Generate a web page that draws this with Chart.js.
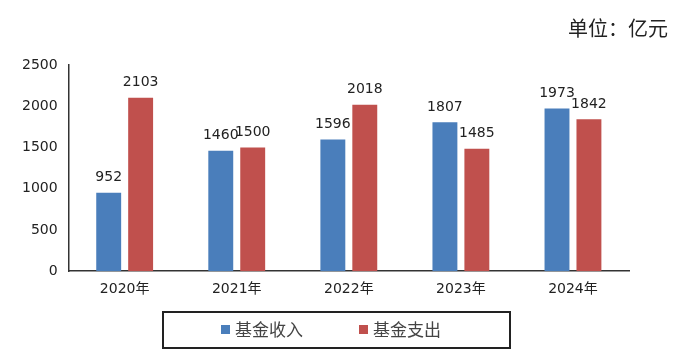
<!DOCTYPE html>
<html>
<head>
    <meta charset="UTF-8">
    <title>基金收入与支出</title>
    <script src="https://cdn.jsdelivr.net/npm/chart.js@4.4.0/dist/chart.umd.min.js"></script>
    <style>
        html, body { margin: 0; padding: 0; background: #fff; }
        #wrap { width: 686px; height: 364px; }
    </style>
</head>
<body>
    <div id="wrap"><canvas id="myChart" width="686" height="364"></canvas></div>

    <script>
        const years = ['2020年', '2021年', '2022年', '2023年', '2024年'];
        const income = [952, 1460, 1596, 1807, 1973];   // 基金收入
        const expense = [2103, 1500, 2018, 1485, 1842]; // 基金支出
        const yTicks = [0, 500, 1000, 1500, 2000, 2500];
        const unitText = '单位：亿元';

        const numFont = '"DejaVu Sans", "Noto Sans CJK SC", sans-serif';
        const cjkFont = '"Noto Sans CJK SC", "DejaVu Sans", sans-serif';

        // value labels above each bar
        const valueLabels = {
            id: 'valueLabels',
            afterDatasetsDraw(chart) {
                const ctx = chart.ctx;
                ctx.save();
                ctx.font = '14px ' + numFont;
                ctx.fillStyle = '#222';
                ctx.textAlign = 'center';
                ctx.textBaseline = 'bottom';
                chart.data.datasets.forEach((ds, i) => {
                    chart.getDatasetMeta(i).data.forEach((bar, j) => {
                        ctx.fillText(String(ds.data[j]), bar.x, bar.y - 8);
                    });
                });
                ctx.restore();
            }
        };

        // unit note and boxed legend
        const extras = {
            id: 'extras',
            afterDraw(chart) {
                const ctx = chart.ctx;
                ctx.save();
                ctx.font = '20px ' + cjkFont;
                ctx.fillStyle = '#222';
                ctx.textAlign = 'right';
                ctx.textBaseline = 'middle';
                ctx.fillText(unitText, 668, 28);

                // legend frame
                ctx.strokeStyle = '#222';
                ctx.lineWidth = 2;
                ctx.strokeRect(163, 312, 347, 36);

                ctx.font = '17px ' + cjkFont;
                ctx.textAlign = 'left';
                ctx.fillStyle = '#444';
                let x = 221;
                chart.data.datasets.forEach((ds) => {
                    ctx.fillStyle = ds.backgroundColor;
                    ctx.fillRect(x, 325, 9, 9);
                    ctx.fillStyle = '#444';
                    ctx.fillText(ds.label, x + 14, 330);
                    x += ctx.measureText(ds.label).width + 14 + 56;
                });
                ctx.restore();
            }
        };

        const ctx = document.getElementById('myChart').getContext('2d');
        new Chart(ctx, {
            type: 'bar',
            data: {
                labels: years,
                datasets: [
                    { label: '基金收入', data: income, backgroundColor: '#4a7ebb' },
                    { label: '基金支出', data: expense, backgroundColor: '#c0504d' }
                ]
            },
            options: {
                responsive: false,
                animation: false,
                layout: { padding: { left: 11, right: 57, top: 65, bottom: 56 } },
                categoryPercentage: 0.57,
                barPercentage: 0.78,
                plugins: {
                    legend: { display: false },
                    tooltip: { enabled: false }
                },
                scales: {
                    x: {
                        grid: { display: false, drawTicks: false },
                        border: { color: '#333', width: 1.5 },
                        ticks: { color: '#222', padding: 10, font: { size: 14, family: numFont } }
                    },
                    y: {
                        min: 0,
                        max: 2500,
                        afterBuildTicks(scale) { scale.ticks = yTicks.map(v => ({ value: v })); },
                        grid: { display: false, drawTicks: false },
                        border: { color: '#333', width: 1.5 },
                        ticks: {
                            color: '#222', padding: 11,
                            font: { size: 14, family: numFont },
                            callback: (v) => String(v)
                        }
                    }
                }
            },
            plugins: [valueLabels, extras]
        });
    </script>
</body>
</html>
